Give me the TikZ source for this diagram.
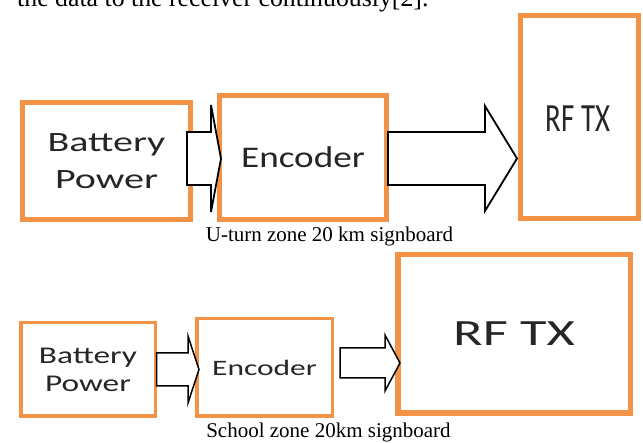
\documentclass[tikz,border=0pt]{standalone}
\usepackage{fontspec}
\usepackage{graphicx}
\setmainfont{Liberation Serif}
\newfontfamily\boxfont{Carlito}
\usetikzlibrary{calc}
\definecolor{boxorange}{HTML}{F39347}
\newcommand\blockarr[8]{%
  \draw[barrow] let \p1=(#1.east), \p2=(#2.west) in
    ({\x1+#3pt},{#6pt+#7pt}) -- ({\x2+#5pt-#4pt},{#6pt+#7pt}) --
    ({\x2+#5pt-#4pt},{#6pt+#8pt}) -- ({\x2+#5pt},{#6pt}) --
    ({\x2+#5pt-#4pt},{#6pt-#8pt}) -- ({\x2+#5pt-#4pt},{#6pt-#7pt}) --
    ({\x1+#3pt},{#6pt-#7pt}) -- cycle;}
\begin{document}
\begin{tikzpicture}[x=1pt,y=1pt,
  blk/.style={draw=boxorange, fill=white, rectangle, inner sep=0pt, align=center,
    text=black!85, font=\boxfont},
  barrow/.style={draw=black, fill=white, line width=1.8pt, line join=miter},
  captext/.style={font=\fontsize{21}{24}\selectfont, anchor=base, inner sep=0pt}]
\path[use as bounding box, clip] (0,0) rectangle (643,443);
\fill[white] (0,0) rectangle (643,443);
% running text cut at the top
\node[anchor=base west, inner sep=0pt, font=\fontsize{25.8}{30}\selectfont] (runtext) at (17,436)
  {the data to the receiver continuously[2].};
% ---- top diagram ----
\node[blk, line width=5pt, minimum width=168pt, minimum height=117pt,
  font=\boxfont\fontsize{28}{37}\selectfont] (b1) at (106.5,282)
  {\scalebox{1.43}[1]{Battery}\\\scalebox{1.43}[1]{Power}};
\node[blk, line width=5pt, minimum width=167pt, minimum height=124pt,
  font=\boxfont\fontsize{30}{36}\selectfont] (e1) at (303,285.5)
  {\scalebox{1.24}[1]{Encoder}};
\node[blk, line width=5pt, minimum width=118pt, minimum height=203pt] (r1) at (579.5,326) {};
\node[inner sep=0pt, text=black!85, font=\boxfont\fontsize{40}{44}\selectfont] (r1t) at (578,324)
  {\scalebox{0.72}[1]{RF TX}};
\blockarr{b1}{e1}{-6}{10}{4}{284.5}{26.5}{53.5}
\blockarr{e1}{r1}{-1}{32}{-1}{284.5}{26.5}{52.5}
\node[captext] (c1) at (329.5,201) {U-turn zone 20 km signboard};
% ---- bottom diagram ----
\node[blk, line width=3.5pt, minimum width=134.5pt, minimum height=93.5pt,
  font=\boxfont\fontsize{24}{28}\selectfont] (b2) at (88,73.5)
  {\scalebox{1.39}[1]{Battery}\\\scalebox{1.39}[1]{Power}};
\node[blk, line width=3.5pt, minimum width=135.5pt, minimum height=97.5pt,
  font=\boxfont\fontsize{22}{26}\selectfont] (e2) at (264.5,75.5)
  {\scalebox{1.43}[1]{Encoder}};
\node[blk, line width=5.5pt, minimum width=232.5pt, minimum height=158.5pt,
  font=\boxfont\fontsize{37}{40}\selectfont] (r2) at (514,109)
  {\scalebox{1.47}[1]{RF TX}};
\begin{scope}[barrow/.append style={line width=1.5pt}]
\blockarr{b2}{e2}{-0.5}{11}{4}{73.5}{16.5}{33.5}
\blockarr{e2}{r2}{6}{15}{5}{80}{15}{28}
\end{scope}
\node[captext] (c2) at (328.5,5) {School zone 20km signboard};
\end{tikzpicture}
\end{document}
